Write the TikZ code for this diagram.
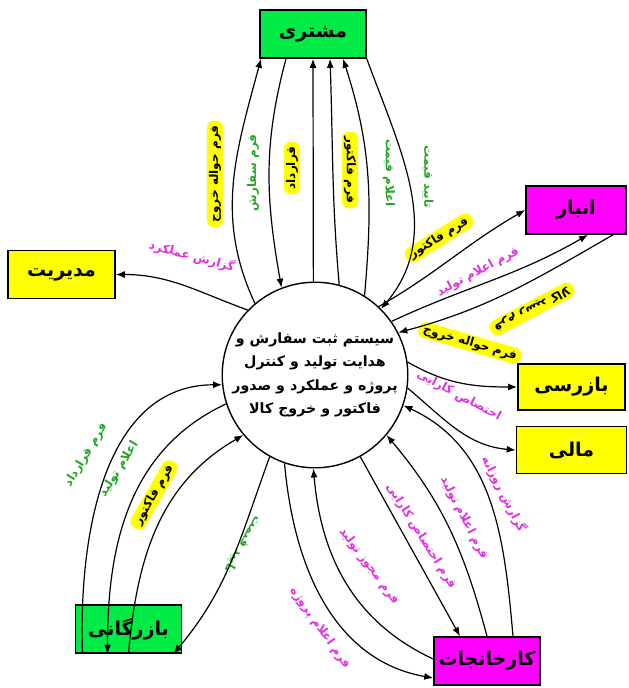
\documentclass[tikz,border=0pt]{standalone}
\usepackage{fontspec}
\usetikzlibrary{positioning, arrows.meta}
\newfontfamily\arabicfont[Script=Arabic]{DejaVu Sans}
\TeXXeTstate=1
\newcommand{\fa}[1]{\beginR #1\endR}
\definecolor{boxgreen}{RGB}{0,235,70}
\definecolor{boxmagenta}{RGB}{255,0,255}
\definecolor{boxyellow}{RGB}{255,255,0}
\definecolor{flowgreen}{RGB}{40,165,40}
\definecolor{flowmagenta}{RGB}{225,50,225}

\begin{document}
\begin{tikzpicture}[x=1pt, y=-1pt,
	entity/.style={rectangle, draw, line width=1.6pt, minimum width=106pt, minimum height=48pt, inner sep=0pt, font=\arabicfont\bfseries\fontsize{19}{22}\selectfont},
	hub/.style={circle, draw, line width=1.4pt, minimum size=178pt, inner sep=0pt, align=center, font=\arabicfont\bfseries\fontsize{14.2}{23.5}\selectfont},
	flow/.style={font=\arabicfont\bfseries\fontsize{12}{14}\selectfont, inner sep=2pt},
	hl/.style={flow, fill=boxyellow, rounded corners=7pt, inner xsep=5pt},
	gtext/.style={flow, text=flowgreen},
	mtext/.style={flow, text=flowmagenta},
	link/.style={->, line width=1.2pt},
	>={Latex[length=9pt, width=7pt]}
]
\useasboundingbox (0,0) rectangle (629,688);

\node[hub] (hub) at (315,375) {\fa{سیستم ثبت سفارش و}\\ \fa{هدایت تولید و کنترل}\\ \fa{پروژه و عملکرد و صدور}\\ \fa{فاکتور و خروج کالا}};

\node[entity, fill=boxgreen] (moshtari) at (313,34) {\fa{مشتری}};
\node[entity, fill=boxmagenta, minimum width=100pt] (anbar) at (576,210) {\fa{انبار}};
\node[entity, fill=boxyellow, minimum width=107pt] (modiriat) at (61.5,274.5) {\fa{مدیریت}};
\node[entity, fill=boxyellow, minimum width=107pt, minimum height=46pt] (bazresi) at (571.5,387) {\fa{بازرسی}};
\node[entity, fill=boxyellow, minimum width=110pt, minimum height=47pt, below=15pt of bazresi] (mali) {\fa{مالی}};
\node[entity, fill=boxgreen] (bazargani) at (128.5,629) {\fa{بازرگانی}};
\node[entity, fill=boxmagenta] (karkhanejat) at (487,661) {\fa{کارخانجات}};

% ports on the boxes
\coordinate (m1) at ([xshift=-52pt]moshtari.south);
\coordinate (m2) at ([xshift=-27pt]moshtari.south);
\coordinate (m3) at (moshtari.south);
\coordinate (m4) at ([xshift=17pt]moshtari.south);
\coordinate (m5) at ([xshift=30pt]moshtari.south);
\coordinate (m6) at (moshtari.south east);
\coordinate (a2) at ([xshift=12pt]anbar.south);
\coordinate (a3) at ([xshift=37pt]anbar.south);
\coordinate (b1) at ([xshift=-46pt]bazargani.south);
\coordinate (b2) at ([xshift=-21pt]bazargani.south);
\coordinate (b3) at (bazargani.south);
\coordinate (b4) at ([xshift=45pt]bazargani.south);
\coordinate (k1) at ([yshift=-17pt]karkhanejat.west);
\coordinate (k2) at ([yshift=2pt]karkhanejat.west);
\coordinate (k3) at ([xshift=-27pt]karkhanejat.north);
\coordinate (k4) at (karkhanejat.north);
\coordinate (k5) at ([xshift=26pt]karkhanejat.north);

% flow labels
\node[hl, rotate=90] (lexit1) at (215,174) {\fa{فرم حواله خروج}};
\node[gtext, rotate=90] (lorder) at (253,173) {\fa{فرم سفارش}};
\node[hl, rotate=90] (lcontract1) at (292,168) {\fa{قرارداد}};
\node[hl, rotate=-90] (linvoice1) at (350,170) {\fa{فرم فاکتور}};
\node[gtext, rotate=-90] (lquote) at (389,173) {\fa{اعلام قیمت}};
\node[gtext, rotate=-90] (lconfirm1) at (428,177) {\fa{تایید قیمت}};
\node[hl, rotate=32] (linvoice2) at (439,238) {\fa{فرم فاکتور}};
\node[mtext, rotate=28] (lprod1) at (478,272) {\fa{فرم اعلام تولید}};
\node[hl, rotate=208] (lreceipt) at (532,309) {\fa{فرم رسید کالا}};
\node[hl, rotate=-16] (lexit2) at (470,343) {\fa{فرم حواله خروج}};
\node[mtext, rotate=-28] (lalloc1) at (459,396) {\fa{اختصاص کارایی}};
\node[mtext, rotate=-15] (lreport) at (192,256) {\fa{گزارش عملکرد}};
\node[gtext, rotate=59] (lcontract2) at (86,455) {\fa{فرم قرارداد}};
\node[gtext, rotate=58] (lprod2) at (119,469) {\fa{اعلام تولید}};
\node[hl, rotate=60] (linvoice3) at (154,495) {\fa{فرم فاکتور}};
\node[gtext, rotate=-120] (lconfirm2) at (243,545) {\fa{تایید قیمت}};
\node[mtext, rotate=-55] (lproject) at (320,628) {\fa{فرم اعلام پروژه}};
\node[mtext, rotate=-53] (lpermit) at (369,566) {\fa{فرم مجوز تولید}};
\node[mtext, rotate=-58] (lalloc2) at (421,536) {\fa{فرم اختصاص کارایی}};
\node[mtext, rotate=-63] (lprod3) at (464,518) {\fa{فرم اعلام تولید}};
\node[mtext, rotate=-63] (ldaily) at (504,494) {\fa{گزارش روزانه}};

% flows
\draw[link] (hub.91) -- (m3);

\foreach \i/\j/\o/\n in {hub.130/m1/115/-105, m2/hub.111/-105/100, hub.75/m4/95/-88, hub.58/m5/85/-72, m6/hub.45/-70/50,
	hub.47/anbar.west/30/210, hub.35/a2/25/210, a3/hub.27/210/15,
	hub.8/bazresi.west/-30/180, hub.-8/mali.west/-40/175, hub.136/modiriat.east/160/0,
	b1/hub.-174/92/180, hub.-162/b2/205/90, b3/hub.-140/85/210, hub.-119/b4/-110/50,
	hub.-109/k1/-85/170, k2/hub.-91/155/-85, hub.-61/k3/-61/119, k4/hub.-40/105/-50, k5/hub.-19/95/-25}
	\draw[link] (\i) to[out=\o, in=\n] (\j);

\end{tikzpicture}
\end{document}
